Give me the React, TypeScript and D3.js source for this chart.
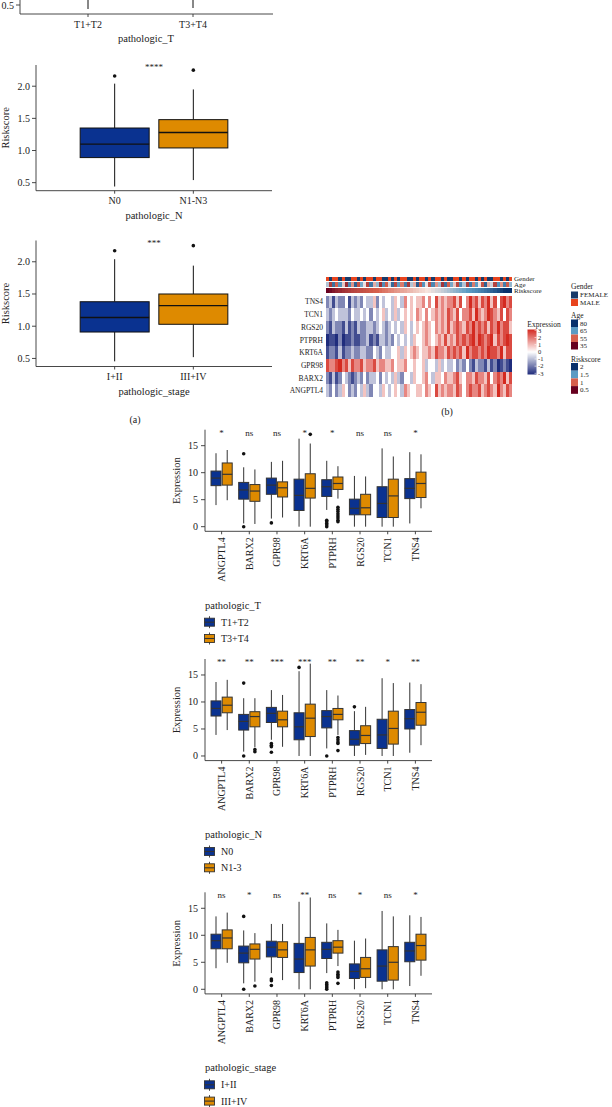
import React from "react";
import * as d3 from "d3";

const FONT = "'Liberation Serif', 'DejaVu Serif', serif";
const BLUE = "#0A3290";
const ORANGE = "#DE8A00";

// ---------- Panel (a): riskscore boxplots ----------
const tGroups = ["T1+T2", "T3+T4"];
const nGroups = ["N0", "N1-N3"];
const nBoxes = [[0.44, 0.89, 1.1, 1.35, 2.04], [0.54, 1.04, 1.28, 1.48, 1.95]];
const nOutliers = [[2.16], [2.25]];
const stageGroups = ["I+II", "III+IV"];
const stageBoxes = [[0.455, 0.91, 1.135, 1.38, 2.04], [0.52, 1.03, 1.32, 1.5, 1.94]];
const stageOutliers = [[2.17], [2.25]];
const riskTicks = [0.5, 1.0, 1.5, 2.0];

// ---------- Panel (b): heatmap ----------
const heatGenes = ["TNS4", "TCN1", "RGS20", "PTPRH", "KRT6A", "GPR98", "BARX2", "ANGPTL4"];
const heatRows = [
  "3424335243 4354463545 5465475656 6757586767 7868579786 8796858978",
  "4345444354 4545354564 5464565657 6575676768 7685778697 6798768587",
  "3243324232 4334434543 4545465456 5676576768 6787687978 7868797886",
  "1221312232 2334232443 4354545465 5676567686 7687878979 8789687898",
  "2332423343 3443354354 4556465676 5667687768 7878697887 8798879688",
  "8778978687 7867786776 6756675565 5645546454 4534353243 3242312321",
  "3242354323 4353445354 5464355465 5675466576 6786577687 7685787968",
  "4353465343 5464355465 4565476556 6576586767 7687578778 6787697687",
];
const genderRow = "MFMMFMFFMM FMFMMFMMFF MFMFMMFFMF MMFMFMMFMF FMMFMFMMFM FMFFMMFMFM";
const ageRow = [62, 48, 71, 55, 66, 59, 44, 68, 57, 73, 52, 64, 60, 49, 70, 58, 63, 45, 67, 54,
  61, 72, 50, 65, 56, 69, 47, 62, 58, 74, 53, 66, 60, 51, 68, 57, 63, 46, 71, 55,
  64, 59, 50, 67, 62, 48, 70, 56, 65, 60, 52, 73, 58, 61, 49, 66, 57, 69, 54, 63];
const riskRow = [0.45, 0.55, 0.62, 0.68, 0.72, 0.76, 0.79, 0.82, 0.85, 0.87,
  0.89, 0.91, 0.93, 0.95, 0.97, 0.99, 1.0, 1.02, 1.04, 1.05,
  1.07, 1.08, 1.1, 1.11, 1.13, 1.14, 1.16, 1.17, 1.19, 1.2,
  1.22, 1.23, 1.25, 1.26, 1.28, 1.3, 1.31, 1.33, 1.35, 1.37,
  1.39, 1.41, 1.43, 1.45, 1.47, 1.5, 1.52, 1.55, 1.58, 1.61,
  1.64, 1.68, 1.72, 1.76, 1.81, 1.86, 1.92, 1.99, 2.08, 2.22];
const exprTicks = [3, 2, 1, 0, -1, -2, -3];
const genderLevels = ["FEMALE", "MALE"];
const ageLevels = [80, 65, 55, 35];
const riskLevels = [2, 1.5, 1, 0.5];

// ---------- Panel (c): gene expression boxplots ----------
const genes = ["ANGPTL4", "BARX2", "GPR98", "KRT6A", "PTPRH", "RGS20", "TCN1", "TNS4"];
const exprTickVals = [0, 5, 10, 15];

// [lo, q1, median, q3, hi]
const tBlue = [[4.0, 7.6, 9.0, 10.3, 13.6], [0.6, 5.1, 6.8, 8.2, 11.0], [1.5, 6.0, 7.7, 9.0, 12.0], [0, 3.0, 5.8, 8.8, 16.3],
  [3.1, 5.6, 7.4, 8.7, 12.2], [0, 2.2, 3.4, 5.1, 9.4], [0, 1.7, 4.3, 7.4, 14.5], [0.6, 5.2, 7.1, 8.9, 13.8]];
const tOrange = [[4.9, 7.7, 9.7, 11.8, 14.2], [0.5, 4.7, 6.6, 7.8, 10.6], [1.7, 5.5, 7.2, 8.3, 12.2], [0, 5.3, 7.1, 9.8, 15.4],
  [5.2, 6.9, 8.0, 9.2, 11.2], [0, 2.2, 3.5, 6.0, 9.3], [0, 1.7, 5.7, 8.8, 13.0], [3.4, 5.4, 8.0, 10.1, 13.4]];
const tBlueOut = [[], [13.5, 0], [0.7], [], [1.2, 0.9, 0.6, 0.3, 0], [], [], []];
const tOrangeOut = [[], [], [], [17.1], [3.6, 3.2, 2.8, 2.4, 2.0, 1.6, 1.2, 0.9], [], [], []];
const tSig = ["*", "ns", "ns", "*", "*", "ns", "ns", "*"];

const nBlue = [[3.9, 7.4, 8.8, 10.2, 13.7], [0.8, 4.8, 6.4, 7.7, 10.7], [3.0, 6.2, 7.9, 9.0, 12.2], [0, 3.0, 5.4, 8.0, 15.7],
  [1.4, 5.2, 7.3, 8.4, 12.2], [0, 2.0, 3.1, 4.7, 8.3], [0, 1.4, 3.9, 6.8, 14.4], [0.6, 5.0, 6.9, 8.6, 13.6]];
const nOrange = [[4.8, 8.0, 9.4, 10.9, 14.1], [1.6, 5.4, 7.3, 8.2, 10.7], [1.7, 5.4, 6.7, 8.3, 11.3], [0, 3.6, 7.0, 9.6, 17.1],
  [3.9, 6.7, 7.7, 8.8, 11.2], [0.2, 2.3, 3.8, 5.6, 9.1], [0, 2.2, 5.1, 8.3, 13.5], [2.0, 5.7, 8.1, 9.9, 13.3]];
const nBlueOut = [[], [13.5, 0], [2.3, 2.0, 1.7, 0.7], [16.4], [0], [9.1], [], []];
const nOrangeOut = [[], [1.2, 0.8], [], [], [3.4, 3.0, 2.6, 2.3, 1.0], [], [], []];
const nSig = ["**", "**", "***", "***", "**", "**", "*", "**"];

const sBlue = [[3.9, 7.5, 9.0, 10.2, 13.5], [1.1, 4.9, 6.7, 8.0, 10.9], [3.0, 6.0, 7.8, 8.9, 12.1], [0, 3.1, 5.6, 8.5, 16.2],
  [3.0, 5.7, 7.4, 8.7, 12.2], [0, 2.0, 3.3, 4.7, 9.0], [0, 1.5, 4.3, 7.3, 14.5], [0.6, 5.1, 7.1, 8.7, 13.7]];
const sOrange = [[4.9, 7.5, 9.5, 11.0, 14.2], [1.4, 5.6, 7.4, 8.4, 10.4], [1.7, 5.9, 7.3, 8.8, 12.1], [0, 4.3, 7.3, 9.6, 17.0],
  [4.3, 6.7, 7.8, 9.0, 11.0], [0.2, 2.2, 3.8, 5.9, 9.4], [0, 1.7, 5.0, 7.9, 13.5], [2.5, 5.4, 8.1, 10.2, 13.4]];
const sBlueOut = [[], [13.5, 0], [1.9, 1.6, 0.7], [], [1.2, 0.9, 0.6, 0.3, 0], [], [], []];
const sOrangeOut = [[], [0.6], [], [], [3.2, 2.8, 2.5, 2.2, 1.1], [], [], []];
const sSig = ["ns", "*", "ns", "**", "ns", "*", "ns", "*"];

type Stats = number[];

function Box({ cx, w, s, y, fill, stroke, outliers, medW = 1.3 }: any) {
  const [lo, q1, med, q3, hi] = s as Stats;
  return (
    <g>
      <line x1={cx} x2={cx} y1={y(hi)} y2={y(q3)} stroke={stroke} strokeWidth={1} />
      <line x1={cx} x2={cx} y1={y(q1)} y2={y(lo)} stroke={stroke} strokeWidth={1} />
      <rect x={cx - w / 2} y={y(q3)} width={w} height={y(q1) - y(q3)} fill={fill} stroke={stroke} strokeWidth={1} />
      <line x1={cx - w / 2} x2={cx + w / 2} y1={y(med)} y2={y(med)} stroke={stroke} strokeWidth={medW} />
      {(outliers as number[]).map((o, i) => (
        <circle key={i} cx={cx} cy={y(o)} r={1.8} fill="#111" />
      ))}
    </g>
  );
}

function RiskPanel({ axisTop, axisBottom, groups, boxes, outliers, sig, title }: any) {
  const y = d3.scaleLinear().domain([0.375, 2.33]).range([axisBottom, axisTop]);
  const x = d3.scalePoint<string>().domain(groups).range([36, 272]).padding(1);
  return (
    <g fontFamily={FONT} fill="#222">
      <line x1={36} x2={36} y1={axisTop} y2={axisBottom} stroke="#333" strokeWidth={0.9} />
      <line x1={36} x2={272} y1={axisBottom} y2={axisBottom} stroke="#333" strokeWidth={0.9} />
      {riskTicks.map((t) => (
        <g key={t}>
          <line x1={32} x2={36} y1={y(t)} y2={y(t)} stroke="#333" strokeWidth={0.9} />
          <text x={30} y={y(t)} dy="0.35em" textAnchor="end" fontSize={10}>{t.toFixed(1)}</text>
        </g>
      ))}
      {groups.map((g: string, i: number) => (
        <g key={g}>
          <Box cx={x(g)} w={69} s={boxes[i]} y={y} fill={i === 0 ? BLUE : ORANGE} stroke="#111" outliers={outliers[i]} />
          <line x1={x(g)} x2={x(g)} y1={axisBottom} y2={axisBottom + 3} stroke="#333" strokeWidth={0.9} />
          <text x={x(g)} y={axisBottom + 13.5} textAnchor="middle" fontSize={10}>{g}</text>
        </g>
      ))}
      <text x={154} y={axisTop + 5} textAnchor="middle" fontSize={9}>{sig}</text>
      <text x={154} y={axisBottom + 28.5} textAnchor="middle" fontSize={10.5}>{title}</text>
      <text transform={`translate(9,${(axisTop + axisBottom) / 2}) rotate(-90)`} textAnchor="middle" fontSize={10.5}>Riskscore</text>
    </g>
  );
}

function TopPartial() {
  const x = d3.scalePoint<string>().domain(tGroups).range([88, 193]);
  return (
    <g fontFamily={FONT} fill="#222">
      <line x1={20} x2={20} y1={0} y2={14} stroke="#333" strokeWidth={0.9} />
      <line x1={20} x2={273} y1={14} y2={14} stroke="#333" strokeWidth={0.9} />
      <line x1={16} x2={20} y1={5} y2={5} stroke="#333" strokeWidth={0.9} />
      <text x={14} y={5} dy="0.35em" textAnchor="end" fontSize={10}>0.5</text>
      {tGroups.map((g, i) => (
        <g key={g}>
          <line x1={x(g)} x2={x(g)} y1={0} y2={i === 0 ? 9 : 8} stroke="#111" strokeWidth={1} />
          <line x1={x(g)} x2={x(g)} y1={14} y2={17} stroke="#333" strokeWidth={0.9} />
          <text x={x(g)} y={27.5} textAnchor="middle" fontSize={10}>{g}</text>
        </g>
      ))}
      <text x={146} y={42} textAnchor="middle" fontSize={10.5}>pathologic_T</text>
    </g>
  );
}

function ExprPanel({ zeroY, blue, orange, blueOut, orangeOut, sig, legendTitle, legendLabels }: any) {
  const y = d3.scaleLinear().domain([-0.855, 17.96]).range([zeroY + 4.6, zeroY - 97]);
  const x = d3.scalePoint<string>().domain(genes).range([205, 432]).padding(0.6);
  const top = zeroY - 97;
  const bottom = zeroY + 4.6;
  const off = 5.6;
  const bw = 10;
  const legY = zeroY + 78.5;
  return (
    <g fontFamily={FONT} fill="#222">
      <line x1={205} x2={205} y1={top} y2={bottom} stroke="#333" strokeWidth={0.9} />
      <line x1={205} x2={432} y1={bottom} y2={bottom} stroke="#333" strokeWidth={0.9} />
      {exprTickVals.map((t) => (
        <g key={t}>
          <line x1={201} x2={205} y1={y(t)} y2={y(t)} stroke="#333" strokeWidth={0.9} />
          <text x={198} y={y(t)} dy="0.35em" textAnchor="end" fontSize={10}>{t}</text>
        </g>
      ))}
      <text transform={`translate(180,${zeroY - 46}) rotate(-90)`} textAnchor="middle" fontSize={10.5}>Expression</text>
      {genes.map((g, i) => {
        const c = x(g) as number;
        return (
          <g key={g}>
            <Box cx={c - off} w={bw} s={blue[i]} y={y} fill={BLUE} stroke="#333" outliers={blueOut[i]} medW={1.2} />
            <Box cx={c + off} w={bw} s={orange[i]} y={y} fill={ORANGE} stroke="#333" outliers={orangeOut[i]} medW={1.2} />
            <line x1={c} x2={c} y1={bottom} y2={bottom + 3} stroke="#333" strokeWidth={0.9} />
            <text transform={`translate(${c},${bottom + 6}) rotate(-90)`} dy="0.35em" textAnchor="end" fontSize={10}>{g}</text>
            <text x={c} y={zeroY - 91} textAnchor="middle" fontSize={9}>{sig[i]}</text>
          </g>
        );
      })}
      <text x={205} y={legY} dy="0.35em" fontSize={10.5}>{legendTitle}</text>
      {legendLabels.map((lab: string, i: number) => {
        const cy = legY + 17 + i * 16.3;
        return (
          <g key={lab}>
            <line x1={209.5} x2={209.5} y1={cy - 6} y2={cy + 6} stroke="#333" strokeWidth={0.9} />
            <rect x={204.5} y={cy - 4} width={10} height={8} fill={i === 0 ? BLUE : ORANGE} stroke="#333" strokeWidth={0.9} />
            <line x1={204.5} x2={214.5} y1={cy} y2={cy} stroke="#333" strokeWidth={1.1} />
            <text x={221} y={cy} dy="0.35em" fontSize={10}>{lab}</text>
          </g>
        );
      })}
    </g>
  );
}

function Heatmap() {
  const ncol = 60;
  const x = d3.scaleBand<number>().domain(d3.range(ncol)).range([326, 512]);
  const rowY = d3.scaleBand<string>().domain(heatGenes).range([295.5, 397]);
  const annY = d3.scaleBand<string>().domain(["Gender", "Age", "Riskscore"]).range([276.5, 292.5]).paddingInner(0.25);
  const expr = d3.scaleLinear<string>().domain([-3, 0, 3]).range(["#1F2C7C", "#FFFFFF", "#D42A20"]).clamp(true);
  const riskCol = d3.scaleLinear<string>().domain([0.5, 1, 1.25, 1.5, 2]).range(["#67001F", "#D6604D", "#F7E4DE", "#5B9BC4", "#08306B"]).clamp(true);
  const ageCol = d3.scaleLinear<string>().domain([35, 55, 60, 65, 80]).range(["#67001F", "#D6604D", "#EDE0E0", "#5B9BC4", "#08306B"]).clamp(true);
  const genderCol = d3.scaleOrdinal<string, string>().domain(["F", "M"]).range(["#173A6A", "#E8441E"]);
  const gender = genderRow.replace(/ /g, "").split("");
  const matrix = heatRows.map((r) => r.replace(/ /g, "").split("").map((d) => (+d - 5) * 0.85));
  const cw = x.bandwidth() + 0.3;
  const exprY = d3.scaleLinear().domain([3, -3]).range([330.3, 373.3]);
  const legX = 571;
  return (
    <g fontFamily={FONT} fill="#222" shapeRendering="crispEdges">
      {gender.map((g, i) => (
        <rect key={"g" + i} x={x(i)} y={annY("Gender")} width={cw} height={annY.bandwidth()} fill={genderCol(g)} />
      ))}
      {ageRow.map((a, i) => (
        <rect key={"a" + i} x={x(i)} y={annY("Age")} width={cw} height={annY.bandwidth()} fill={ageCol(a)} />
      ))}
      {riskRow.map((r, i) => (
        <rect key={"r" + i} x={x(i)} y={annY("Riskscore")} width={cw} height={annY.bandwidth()} fill={riskCol(r)} />
      ))}
      {matrix.map((row, ri) =>
        row.map((v, ci) => (
          <rect key={ri + "-" + ci} x={x(ci)} y={rowY(heatGenes[ri])} width={cw} height={rowY.bandwidth() + 0.3} fill={expr(v)} />
        ))
      )}
      <g shapeRendering="auto">
        {heatGenes.map((g) => (
          <text key={g} x={323} y={(rowY(g) as number) + rowY.bandwidth() / 2} dy="0.35em" textAnchor="end" fontSize={7.5}>{g}</text>
        ))}
        {["Gender", "Age", "Riskscore"].map((a) => (
          <text key={a} x={514} y={(annY(a) as number) + annY.bandwidth() / 2} dy="0.35em" fontSize={7}>{a}</text>
        ))}
        <defs>
          <linearGradient id="exprGrad" x1="0" x2="0" y1="0" y2="1">
            {exprTicks.map((t, i) => (
              <stop key={t} offset={i / (exprTicks.length - 1)} stopColor={expr(t)} />
            ))}
          </linearGradient>
        </defs>
        <text x={544} y={324} dy="0.35em" textAnchor="middle" fontSize={7.5}>Expression</text>
        <rect x={527.5} y={329.5} width={9} height={45} fill="url(#exprGrad)" />
        {exprTicks.map((t) => (
          <g key={t}>
            <line x1={534.5} x2={536.5} y1={exprY(t)} y2={exprY(t)} stroke="#fff" strokeWidth={0.6} />
            <text x={538} y={exprY(t)} dy="0.35em" fontSize={6.5}>{t}</text>
          </g>
        ))}
        <text x={legX} y={286.5} dy="0.35em" fontSize={7.5}>Gender</text>
        {genderLevels.map((g, i) => (
          <g key={g}>
            <rect x={legX} y={291.5 + i * 7.5} width={7} height={7} fill={genderCol(g[0])} />
            <text x={legX + 9} y={295 + i * 7.5} dy="0.35em" fontSize={7}>{g}</text>
          </g>
        ))}
        <text x={legX} y={315} dy="0.35em" fontSize={7.5}>Age</text>
        {ageLevels.map((a, i) => (
          <g key={a}>
            <rect x={legX} y={319.5 + i * 7.5} width={7} height={7.5} fill={ageCol(a)} />
            <text x={legX + 9} y={323.2 + i * 7.5} dy="0.35em" fontSize={7}>{a}</text>
          </g>
        ))}
        <text x={legX} y={359.3} dy="0.35em" fontSize={7.5}>Riskscore</text>
        {riskLevels.map((r, i) => (
          <g key={r}>
            <rect x={legX} y={363 + i * 7.7} width={7} height={7.7} fill={riskCol(r)} />
            <text x={legX + 9} y={366.8 + i * 7.7} dy="0.35em" fontSize={7}>{r}</text>
          </g>
        ))}
      </g>
    </g>
  );
}

export default function App() {
  return (
    <svg width={612} height={1107} style={{ position: "absolute", left: 0, top: 0, background: "#fff" }}>
      <rect width={612} height={1107} fill="#fff" />
      <TopPartial />
      <RiskPanel axisTop={65} axisBottom={190.7} groups={nGroups} boxes={nBoxes} outliers={nOutliers} sig="****" title="pathologic_N" />
      <RiskPanel axisTop={240.5} axisBottom={366.5} groups={stageGroups} boxes={stageBoxes} outliers={stageOutliers} sig="***" title="pathologic_stage" />
      <text x={135} y={423} textAnchor="middle" fontSize={10} fontFamily={FONT} fill="#222">(a)</text>
      <Heatmap />
      <text x={447} y={415} textAnchor="middle" fontSize={10} fontFamily={FONT} fill="#222">(b)</text>
      <ExprPanel zeroY={526.7} blue={tBlue} orange={tOrange} blueOut={tBlueOut} orangeOut={tOrangeOut} sig={tSig}
        legendTitle="pathologic_T" legendLabels={["T1+T2", "T3+T4"]} />
      <ExprPanel zeroY={756} blue={nBlue} orange={nOrange} blueOut={nBlueOut} orangeOut={nOrangeOut} sig={nSig}
        legendTitle="pathologic_N" legendLabels={["N0", "N1-3"]} />
      <ExprPanel zeroY={989.3} blue={sBlue} orange={sOrange} blueOut={sBlueOut} orangeOut={sOrangeOut} sig={sSig}
        legendTitle="pathologic_stage" legendLabels={["I+II", "III+IV"]} />
    </svg>
  );
}
